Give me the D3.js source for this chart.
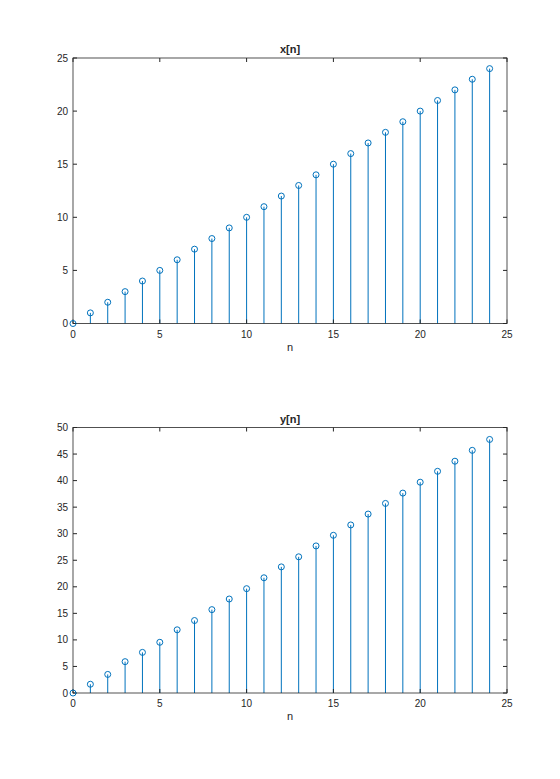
<!DOCTYPE html>
<html>
<head>
<meta charset="UTF-8">
<title>x[n] and y[n]</title>
<script src="https://d3js.org/d3.v7.min.js"></script>
<style>
  body { margin: 0; background: #fff; }
  svg text { font-family: "Liberation Sans", Arial, sans-serif; fill: #262626; }
</style>
</head>
<body>
<svg width="560" height="779"></svg>
<script>
const n = d3.range(0, 25);
const xValues = [0, 1, 2, 3, 4, 5, 6, 7, 8, 9, 10, 11, 12, 13, 14, 15, 16, 17, 18, 19, 20, 21, 22, 23, 24];
const yValues = [0, 1.65, 3.5, 5.9, 7.65, 9.55, 11.9, 13.65, 15.7, 17.7, 19.65, 21.7, 23.75, 25.65, 27.7, 29.7, 31.65, 33.7, 35.7, 37.65, 39.7, 41.75, 43.65, 45.7, 47.75];
const xTicks = [0, 5, 10, 15, 20, 25];
const topYTicks = [0, 5, 10, 15, 20, 25];
const bottomYTicks = [0, 5, 10, 15, 20, 25, 30, 35, 40, 45, 50];

const stemColor = "#0072BD";
const axisColor = "#262626";
const svg = d3.select("svg");

function stemPanel(top, bottom, values, yMax, yTicks, title) {
  const x = d3.scaleLinear().domain([0, 25]).range([73, 507]);
  const y = d3.scaleLinear().domain([0, yMax]).range([bottom, top]);
  const g = svg.append("g");

  // stems
  g.selectAll("line.stem")
    .data(n)
    .enter()
    .append("line")
    .attr("class", "stem")
    .attr("x1", d => x(d)).attr("x2", d => x(d))
    .attr("y1", y(0)).attr("y2", d => y(values[d]))
    .attr("stroke", stemColor)
    .attr("stroke-width", 1);

  // box and ticks
  g.append("rect")
    .attr("x", 73).attr("y", top)
    .attr("width", 507 - 73).attr("height", bottom - top)
    .attr("fill", "none").attr("stroke", axisColor).attr("stroke-width", 0.8);

  const tl = 4;
  g.selectAll("line.xt")
    .data(xTicks)
    .enter()
    .append("g")
    .each(function(d) {
      const s = d3.select(this);
      s.append("line").attr("x1", x(d)).attr("x2", x(d)).attr("y1", bottom).attr("y2", bottom - tl).attr("stroke", axisColor);
      s.append("line").attr("x1", x(d)).attr("x2", x(d)).attr("y1", top).attr("y2", top + tl).attr("stroke", axisColor);
      s.append("text").attr("x", x(d)).attr("y", bottom + 14).attr("text-anchor", "middle").attr("font-size", 10).text(d);
    });

  g.selectAll("g.yt")
    .data(yTicks)
    .enter()
    .append("g")
    .each(function(d) {
      const s = d3.select(this);
      s.append("line").attr("x1", 73).attr("x2", 73 + tl).attr("y1", y(d)).attr("y2", y(d)).attr("stroke", axisColor);
      s.append("line").attr("x1", 507).attr("x2", 507 - tl).attr("y1", y(d)).attr("y2", y(d)).attr("stroke", axisColor);
      s.append("text").attr("x", 68).attr("y", y(d)).attr("dy", "0.35em").attr("text-anchor", "end").attr("font-size", 10).text(d);
    });

  // markers
  g.selectAll("circle")
    .data(n)
    .enter()
    .append("circle")
    .attr("cx", d => x(d))
    .attr("cy", d => y(values[d]))
    .attr("r", 3)
    .attr("fill", "none")
    .attr("stroke", stemColor)
    .attr("stroke-width", 1);

  g.append("text")
    .attr("x", 290).attr("y", top - 5)
    .attr("text-anchor", "middle")
    .attr("font-size", 11).attr("font-weight", "bold")
    .text(title);

  g.append("text")
    .attr("x", 290).attr("y", bottom + 27)
    .attr("text-anchor", "middle")
    .attr("font-size", 11)
    .text("n");
}

stemPanel(58, 323.5, xValues, 25, topYTicks, "x[n]");
stemPanel(427.5, 693, yValues, 50, bottomYTicks, "y[n]");
</script>
</body>
</html>
